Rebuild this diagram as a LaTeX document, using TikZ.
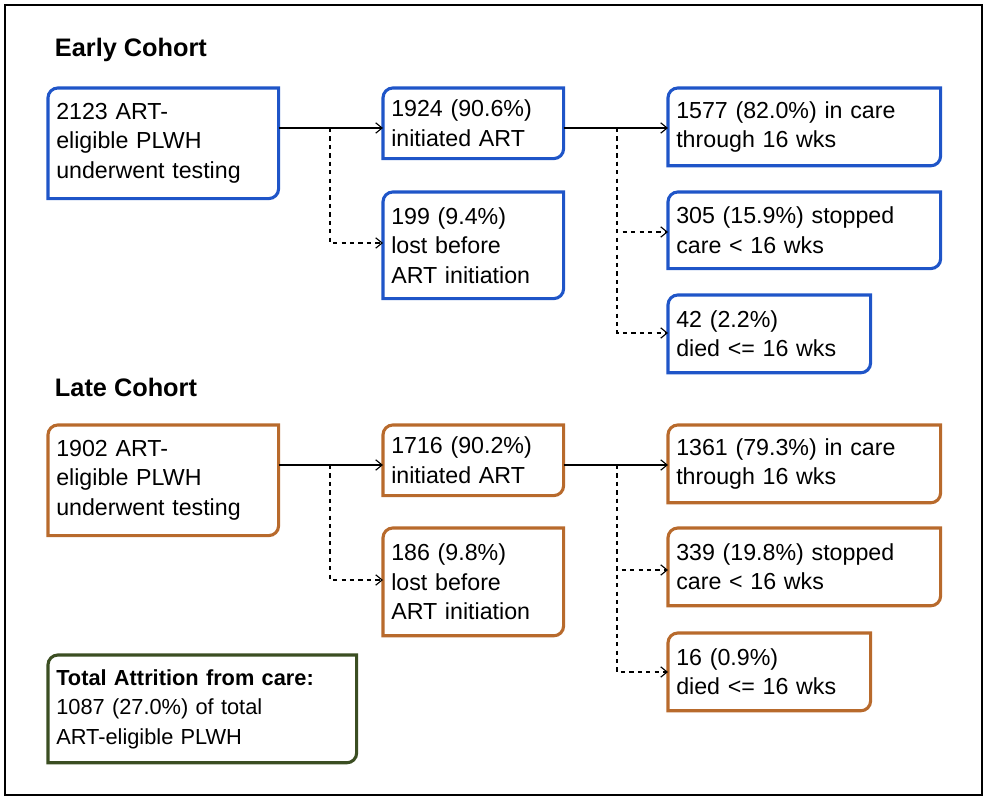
\documentclass[tikz,border=0pt]{standalone}
\usepackage{fontspec}
\setmainfont{Liberation Sans}
\usetikzlibrary{positioning,arrows.meta}
\definecolor{earlyblue}{HTML}{1F55C8}
\definecolor{lateorange}{HTML}{B86A2C}
\definecolor{totalgreen}{HTML}{3B4E22}
\tikzset{
  box/.style={anchor=north west, align=left, inner xsep=0.2cm, inner ysep=0.1cm,
    font=\fontsize{16.5}{21}\selectfont},
  flow/.style={-{Straight Barb[length=1.6mm,width=2.6mm]}, thick},
  side/.style={flow, dashed},
  frame/.style={line width=2.2pt}
}
\newcommand{\cornerframe}[2]{%
  \draw[frame, #2] (#1.west) [rounded corners=7pt] -- (#1.north west) -- (#1.north)
    [sharp corners] -- (#1.north east) -- (#1.east) [rounded corners=7pt] -- (#1.south east)
    -- (#1.south) [sharp corners] -- (#1.south west) -- cycle;}
\begin{document}
\begin{tikzpicture}[x=0.025cm,y=-0.025cm]
  \useasboundingbox (0,0) rectangle (988,800);
  \draw[line width=1.6pt] (5,5) rectangle (982,795);

  % early cohort
  \node[anchor=west, font=\fontsize{18}{22}\selectfont\bfseries] (titleE) at (50,50) {Early Cohort};
  \node[box, text width=5.35cm, minimum height=2.75cm] (testE) at (48,88) {2123 ART-\\eligible PLWH\\underwent testing};
  \node[box, text width=4.1cm, minimum height=1.75cm] (initE) at (383,88) {1924 (90.6\%)\\initiated ART};
  \node[box, text width=4.1cm, minimum height=2.65cm] (lostE) at (383,192) {199 (9.4\%)\\lost before\\ART initiation};
  \node[box, text width=6.4cm, minimum height=1.93cm] (careE) at (668,88) {1577 (82.0\%) in care\\through 16 wks};
  \node[box, text width=6.4cm, minimum height=1.9cm] (stopE) at (668,192) {305 (15.9\%) stopped\\care < 16 wks};
  \node[box, text width=4.65cm, minimum height=1.93cm] (diedE) at (668,295) {42 (2.2\%)\\died <= 16 wks};
  \foreach \n in {testE,initE,lostE,careE,stopE,diedE} {\cornerframe{\n}{earlyblue}}

  \coordinate (splitE) at (330,128);
  \coordinate (forkE) at (617,128);
  \draw[flow] (testE.east |- splitE) -- (initE.west |- splitE);
  \draw[side] (splitE) |- (lostE.west |- 0,243);
  \draw[flow] (initE.east |- forkE) -- (careE.west |- forkE);
  \draw[side] (forkE) |- (stopE.west |- 0,232);
  \draw[side] (forkE) |- (diedE.west |- 0,333);

  % late cohort
  \node[anchor=west, font=\fontsize{18}{22}\selectfont\bfseries] (titleL) at (50,387) {Late Cohort};
  \node[box, text width=5.35cm, minimum height=2.75cm] (testL) at (48,425) {1902 ART-\\eligible PLWH\\underwent testing};
  \node[box, text width=4.1cm, minimum height=1.75cm] (initL) at (383,425) {1716 (90.2\%)\\initiated ART};
  \node[box, text width=4.1cm, minimum height=2.68cm] (lostL) at (383,528) {186 (9.8\%)\\lost before\\ART initiation};
  \node[box, text width=6.4cm, minimum height=1.93cm] (careL) at (668,425) {1361 (79.3\%) in care\\through 16 wks};
  \node[box, text width=6.4cm, minimum height=1.93cm] (stopL) at (668,528) {339 (19.8\%) stopped\\care < 16 wks};
  \node[box, text width=4.65cm, minimum height=1.93cm] (diedL) at (668,633) {16 (0.9\%)\\died <= 16 wks};
  \foreach \n in {testL,initL,lostL,careL,stopL,diedL} {\cornerframe{\n}{lateorange}}

  \coordinate (splitL) at (330,465);
  \coordinate (forkL) at (617,465);
  \draw[flow] (testL.east |- splitL) -- (initL.west |- splitL);
  \draw[side] (splitL) |- (lostL.west |- 0,580);
  \draw[flow] (initL.east |- forkL) -- (careL.west |- forkL);
  \draw[side] (forkL) |- (stopL.west |- 0,570);
  \draw[side] (forkL) |- (diedL.west |- 0,672);

  % total
  \node[box, text width=7.3cm, minimum height=2.68cm, font=\fontsize{15.5}{21}\selectfont] (total) at (48,655)
    {\textbf{Total Attrition from care:}\\1087 (27.0\%) of total\\ART-eligible PLWH};
  \cornerframe{total}{totalgreen}
\end{tikzpicture}
\end{document}
